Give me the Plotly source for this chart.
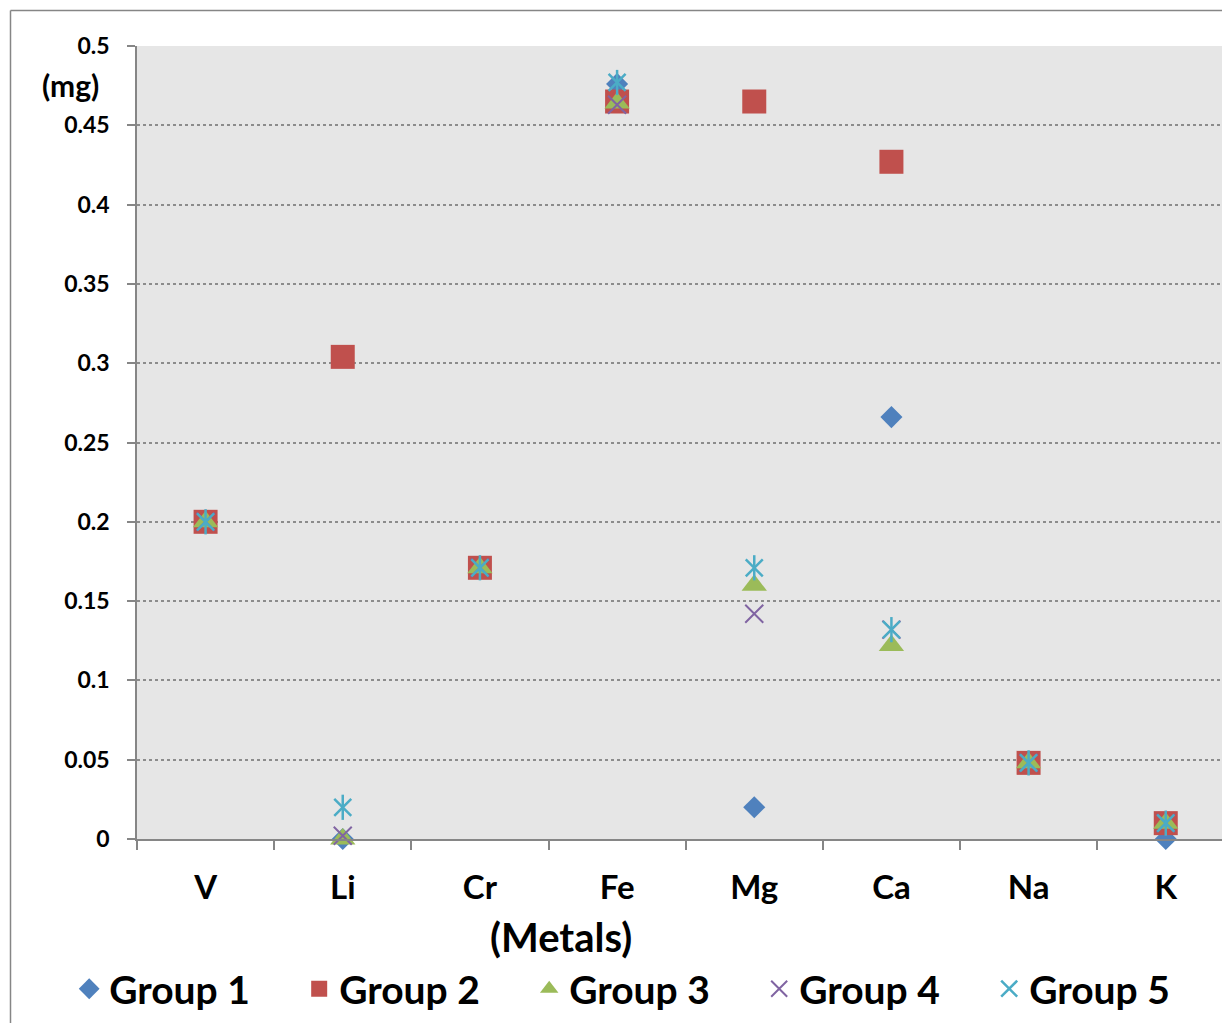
import plotly.graph_objects as go

metals = ["V", "Li", "Cr", "Fe", "Mg", "Ca", "Na", "K"]
group1 = [0.200, 0.000, 0.171, 0.476, 0.020, 0.266, 0.048, 0.000]
group2 = [0.200, 0.304, 0.171, 0.465, 0.465, 0.427, 0.048, 0.010]
group3 = [0.200, 0.000, 0.171, 0.464, 0.160, 0.122, 0.048, 0.010]
group4 = [0.200, 0.002, 0.171, 0.463, 0.142, 0.132, 0.048, 0.010]
group5 = [0.200, 0.020, 0.171, 0.477, 0.171, 0.132, 0.048, 0.010]
y_ticks = [0, 0.05, 0.1, 0.15, 0.2, 0.25, 0.3, 0.35, 0.4, 0.45, 0.5]
y_tick_text = ["0", "0.05", "0.1", "0.15", "0.2", "0.25", "0.3", "0.35", "0.4", "0.45", "0.5"]

FONT = "Lato"
xi = list(range(len(metals)))

fig = go.Figure()
fig.add_trace(go.Scatter(x=xi, y=group1, mode="markers", name="Group 1",
                         marker=dict(symbol="diamond", size=17, color="#4F81BD"), cliponaxis=False))
fig.add_trace(go.Scatter(x=xi, y=group2, mode="markers", name="Group 2",
                         marker=dict(symbol="square", size=24, color="#C0504D"), cliponaxis=False))
fig.add_trace(go.Scatter(x=xi, y=group3, mode="markers", name="Group 3",
                         marker=dict(symbol="triangle-up", size=22, color="#9BBB59"), cliponaxis=False))
fig.add_trace(go.Scatter(x=xi, y=group4, mode="markers", name="Group 4",
                         marker=dict(symbol="x-thin-open", size=18, color="#8064A2",
                                     line=dict(width=2, color="#8064A2")), cliponaxis=False))
fig.add_trace(go.Scatter(x=xi, y=group5, mode="markers", name="Group 5", legendgroup="g5",
                         marker=dict(symbol="x-thin-open", size=17, color="#4BACC6",
                                     line=dict(width=2.5, color="#4BACC6")), cliponaxis=False))
fig.add_trace(go.Scatter(x=xi, y=group5, mode="markers", name="Group 5", legendgroup="g5",
                         showlegend=False,
                         marker=dict(symbol="line-ns-open", size=18, color="#4BACC6",
                                     line=dict(width=2.5, color="#4BACC6")), cliponaxis=False))

fig.update_layout(
    width=1222, height=1023,
    margin=dict(l=137, r=0, t=46, b=184),
    paper_bgcolor="white",
    plot_bgcolor="#E6E6E6",
    font=dict(family=FONT, color="black"),
    showlegend=True,
    legend=dict(orientation="h", x=-0.0625, xanchor="left", y=-0.189, yanchor="middle",
                font=dict(family=FONT, size=39, color="black", weight="bold"),
                entrywidth=185, entrywidthmode="pixels", itemwidth=30,
                bgcolor="rgba(0,0,0,0)"),
    xaxis=dict(range=[-0.5, 7.41], tickmode="array", tickvals=xi, ticktext=metals,
               ticks="", showgrid=False, zeroline=False,
               showline=True, linecolor="#868686", linewidth=2,
               tickfont=dict(family=FONT, size=33, color="black", weight="bold"),
               ticklabelstandoff=18,
               minor=dict(tick0=-0.5, dtick=1, ticks="outside", ticklen=9,
                          tickcolor="#868686", tickwidth=1.5, showgrid=False)),
    yaxis=dict(range=[0, 0.5], tickmode="array", tickvals=y_ticks, ticktext=y_tick_text,
               ticks="outside", ticklen=8, tickcolor="#868686", tickwidth=1.5,
               showgrid=True, gridcolor="#8C8C8C", gridwidth=1.5, griddash="dot",
               zeroline=False, showline=True, linecolor="#868686", linewidth=1.5,
               tickfont=dict(family=FONT, size=23, color="black", weight="bold"),
               ticklabelstandoff=13),
)

fig.add_annotation(text="(mg)", xref="paper", yref="paper",
                   x=(70 - 137) / 1085, y=(839 - 85) / 793, showarrow=False,
                   xanchor="center", yanchor="middle",
                   font=dict(family=FONT, size=30, color="black", weight="bold"))
fig.add_annotation(text="(Metals)", xref="paper", yref="paper",
                   x=(561 - 137) / 1085, y=(839 - 937) / 793, showarrow=False,
                   xanchor="center", yanchor="middle",
                   font=dict(family=FONT, size=40, color="black", weight="bold"))

# outer chart border (left and top edges visible)
x_left = (10.5 - 137) / 1085
y_top = 1 + (46 - 10.5) / 793
fig.add_shape(type="line", xref="paper", yref="paper", x0=x_left, x1=x_left,
              y0=y_top, y1=-0.3, line=dict(color="#868686", width=1.5))
fig.add_shape(type="line", xref="paper", yref="paper", x0=x_left, x1=1.05,
              y0=y_top, y1=y_top, line=dict(color="#868686", width=1.5))

fig.write_html("out.html")
